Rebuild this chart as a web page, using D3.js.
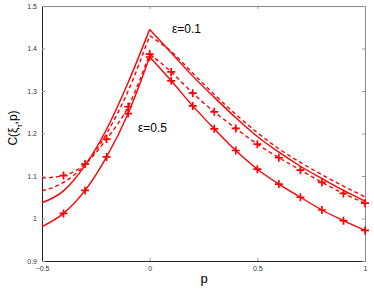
<!DOCTYPE html>
<html>
<head>
<meta charset="utf-8">
<script src="https://cdn.jsdelivr.net/npm/d3@7"></script>
<style>
  body { margin: 0; background: #fff; }
</style>
</head>
<body>
<div id="chart"></div>
<script>
// p values and curve values
const pVals = [-0.5, -0.4, -0.3, -0.2, -0.1, 0, 0.1, 0.2, 0.3, 0.4, 0.5, 0.6, 0.7, 0.8, 0.9, 1.0];
const theory01 = [1.037, 1.065, 1.125, 1.21, 1.32, 1.445, 1.39, 1.335, 1.285, 1.237, 1.193, 1.156, 1.123, 1.094, 1.066, 1.041];
const sim01    = [1.065, 1.085, 1.127, 1.2, 1.3, 1.43, 1.393, 1.342, 1.292, 1.245, 1.202, 1.164, 1.132, 1.103, 1.076, 1.051];
const theory05 = [0.981, 1.012, 1.066, 1.145, 1.247, 1.38, 1.324, 1.265, 1.211, 1.16, 1.116, 1.081, 1.05, 1.02, 0.995, 0.972];
const sim05    = [1.095, 1.101, 1.128, 1.187, 1.263, 1.387, 1.345, 1.295, 1.251, 1.212, 1.175, 1.143, 1.114, 1.085, 1.059, 1.036];

const xTicks = [-0.5, 0, 0.5, 1];
const xTickLabels = ["\u22120.5", "0", "0.5", "1"];
const yTicks = [0.9, 1, 1.1, 1.2, 1.3, 1.4, 1.5];
const yTickLabels = ["0.9", "1", "1.1", "1.2", "1.3", "1.4", "1.5"];

const width = 374, height = 289;
const margin = {left: 42, right: 9, top: 6, bottom: 28};
const red = "#ff0000";
const font = "'Liberation Sans', Arial, sans-serif";

const svg = d3.select("#chart").append("svg")
  .attr("width", width)
  .attr("height", height);

const x = d3.scaleLinear().domain([-0.5, 1]).range([margin.left, width - margin.right]);
const y = d3.scaleLinear().domain([0.9, 1.5]).range([height - margin.bottom, margin.top]);

// box with inward ticks
const axisG = svg.append("g");
axisG.append("g")
  .attr("transform", `translate(0,${y(0.9)})`)
  .call(d3.axisBottom(x).tickValues(xTicks).tickSizeInner(-3).tickSizeOuter(0)
    .tickPadding(5).tickFormat((d, i) => xTickLabels[i]));
axisG.append("g")
  .attr("transform", `translate(0,${y(1.5)})`)
  .call(d3.axisTop(x).tickValues(xTicks).tickSizeInner(-3).tickSizeOuter(0).tickFormat(""));
axisG.append("g")
  .attr("transform", `translate(${x(-0.5)},0)`)
  .call(d3.axisLeft(y).tickValues(yTicks).tickSizeInner(-3).tickSizeOuter(0)
    .tickPadding(5).tickFormat((d, i) => yTickLabels[i]));
axisG.append("g")
  .attr("transform", `translate(${x(1)},0)`)
  .call(d3.axisRight(y).tickValues(yTicks).tickSizeInner(-3).tickSizeOuter(0).tickFormat(""));

axisG.selectAll(".domain").attr("stroke", "#888");
axisG.selectAll(".tick line").attr("stroke", "#999");
axisG.selectAll(".tick text")
  .attr("font-family", font)
  .attr("font-size", 7)
  .attr("fill", "#333");
// left and bottom drawn darker
axisG.select("g:nth-child(1) .domain").attr("stroke", "#222");
axisG.select("g:nth-child(3) .domain").attr("stroke", "#222");

// curves, split at the cusp p = 0
const line = d3.line()
  .x(d => x(d[0]))
  .y(d => y(d[1]))
  .curve(d3.curveMonotoneX);

function drawCurve(vals, dashed) {
  const pts = pVals.map((p, i) => [p, vals[i]]);
  const halves = [pts.filter(d => d[0] <= 0), pts.filter(d => d[0] >= 0)];
  svg.append("g").selectAll("path")
    .data(halves)
    .join("path")
    .attr("d", line)
    .attr("fill", "none")
    .attr("stroke", red)
    .attr("stroke-width", 1.4)
    .attr("stroke-dasharray", dashed ? "4,3" : null);
}

function drawMarkers(vals) {
  const pts = pVals.map((p, i) => [p, vals[i]]).filter(d => d[0] >= -0.4);
  svg.append("g").selectAll("path")
    .data(pts)
    .join("path")
    .attr("transform", d => `translate(${x(d[0])},${y(d[1])})`)
    .attr("d", "M-4,0H4M0,-4V4")
    .attr("stroke", red)
    .attr("stroke-width", 1.7)
    .attr("fill", "none");
}

drawCurve(theory01, false);
drawCurve(sim01, true);
drawCurve(theory05, false);
drawCurve(sim05, true);
drawMarkers(theory05);
drawMarkers(sim05);

// annotations
svg.append("text")
  .attr("x", 172).attr("y", 33)
  .attr("font-family", font).attr("font-size", 12)
  .text("\u03b5=0.1");
svg.append("text")
  .attr("x", 138).attr("y", 132)
  .attr("font-family", font).attr("font-size", 12)
  .text("\u03b5=0.5");

// axis labels
svg.append("text")
  .attr("x", 204).attr("y", 283)
  .attr("text-anchor", "middle")
  .attr("font-family", font).attr("font-size", 13)
  .text("p");

const yl = svg.append("text")
  .attr("transform", "translate(17,128) rotate(-90)")
  .attr("text-anchor", "middle")
  .attr("font-family", font).attr("font-size", 12);
yl.append("tspan").text("C(\u03be");
yl.append("tspan").attr("baseline-shift", "sub").attr("font-size", 8).text("\u03c4");
yl.append("tspan").text(",p)");
</script>
</body>
</html>
